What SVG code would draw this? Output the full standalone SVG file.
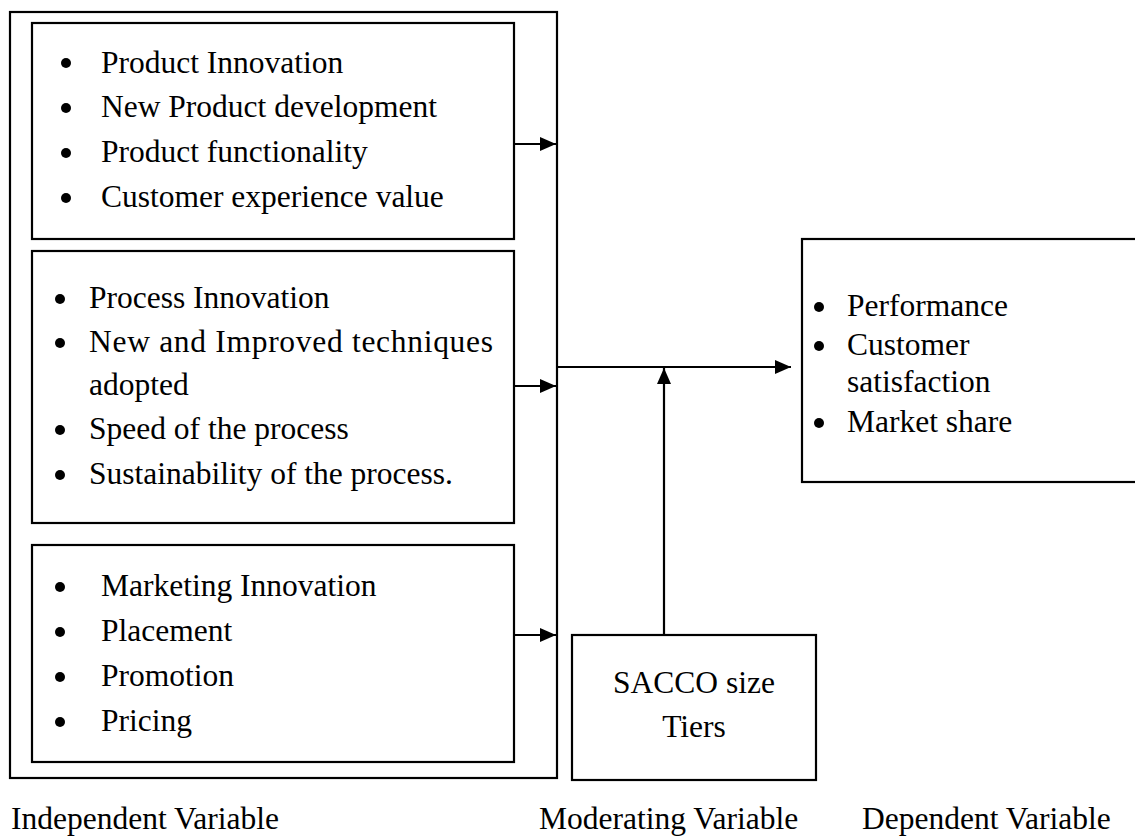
<svg xmlns="http://www.w3.org/2000/svg" width="1135" height="838" viewBox="0 0 1135 838">
<style>
.box{fill:none;stroke:#000;stroke-width:2.2}
.t{font-family:"Liberation Serif","Times New Roman",serif;font-size:31.5px;fill:#000}
.c{stroke:#000;stroke-width:2.2;fill:none}
.b{fill:#000}
</style>
<defs>
<marker id="ah" viewBox="0 0 16 14" refX="16" refY="7" markerWidth="16" markerHeight="14" markerUnits="userSpaceOnUse" orient="auto">
<path d="M0,0 L16,7 L0,14 Z" fill="#000"/>
</marker>
</defs>
<rect width="1135" height="838" fill="#fff"/>
<g id="independent">
<rect class="box" x="10" y="12" width="547" height="766"/>
</g>
<g id="product-innovation">
<rect class="box" x="32" y="23" width="482" height="216"/>
<circle class="b" cx="66" cy="63" r="5"/>
<circle class="b" cx="66" cy="108" r="5"/>
<circle class="b" cx="66" cy="153" r="5"/>
<circle class="b" cx="66" cy="198" r="5"/>
<text class="t" x="101" y="73">Product Innovation</text>
<text class="t" x="101" y="117">New Product development</text>
<text class="t" x="101" y="162">Product functionality</text>
<text class="t" x="101" y="207">Customer experience value</text>
</g>
<g id="process-innovation">
<rect class="box" x="32" y="251" width="482" height="272"/>
<circle class="b" cx="60" cy="299" r="5"/>
<circle class="b" cx="60" cy="343" r="5"/>
<circle class="b" cx="60" cy="430" r="5"/>
<circle class="b" cx="60" cy="475" r="5"/>
<text class="t" x="89" y="308">Process Innovation</text>
<text class="t" x="89" y="352" textLength="404" lengthAdjust="spacing">New and Improved techniques</text>
<text class="t" x="89" y="395">adopted</text>
<text class="t" x="89" y="439">Speed of the process</text>
<text class="t" x="89" y="484">Sustainability of the process.</text>
</g>
<g id="marketing-innovation">
<rect class="box" x="32" y="545" width="482" height="217"/>
<circle class="b" cx="60" cy="587" r="5"/>
<circle class="b" cx="60" cy="632" r="5"/>
<circle class="b" cx="60" cy="677" r="5"/>
<circle class="b" cx="60" cy="722" r="5"/>
<text class="t" x="101" y="596">Marketing Innovation</text>
<text class="t" x="101" y="641">Placement</text>
<text class="t" x="101" y="686">Promotion</text>
<text class="t" x="101" y="731">Pricing</text>
</g>
<g id="dependent">
<rect class="box" x="802" y="239" width="345" height="243"/>
<circle class="b" cx="819" cy="307" r="5"/>
<circle class="b" cx="819" cy="346" r="5"/>
<circle class="b" cx="819" cy="423" r="5"/>
<text class="t" x="847" y="316">Performance</text>
<text class="t" x="847" y="355">Customer</text>
<text class="t" x="847" y="392">satisfaction</text>
<text class="t" x="847" y="432">Market share</text>
</g>
<g id="moderating">
<rect class="box" x="572" y="635" width="244" height="145"/>
<text class="t" x="694" y="693" text-anchor="middle">SACCO size</text>
<text class="t" x="694" y="737" text-anchor="middle">Tiers</text>
</g>
<g id="connectors">
<line class="c" x1="514" y1="144" x2="556" y2="144" marker-end="url(#ah)"/>
<line class="c" x1="514" y1="386" x2="556" y2="386" marker-end="url(#ah)"/>
<line class="c" x1="514" y1="635" x2="556" y2="635" marker-end="url(#ah)"/>
<line class="c" x1="557" y1="367" x2="791" y2="367" marker-end="url(#ah)"/>
<line class="c" x1="664" y1="635" x2="664" y2="368" marker-end="url(#ah)"/>
</g>
<g id="labels">
<text class="t" x="11" y="829">Independent Variable</text>
<text class="t" x="539" y="829">Moderating Variable</text>
<text class="t" x="862" y="829">Dependent Variable</text>
</g>
</svg>
